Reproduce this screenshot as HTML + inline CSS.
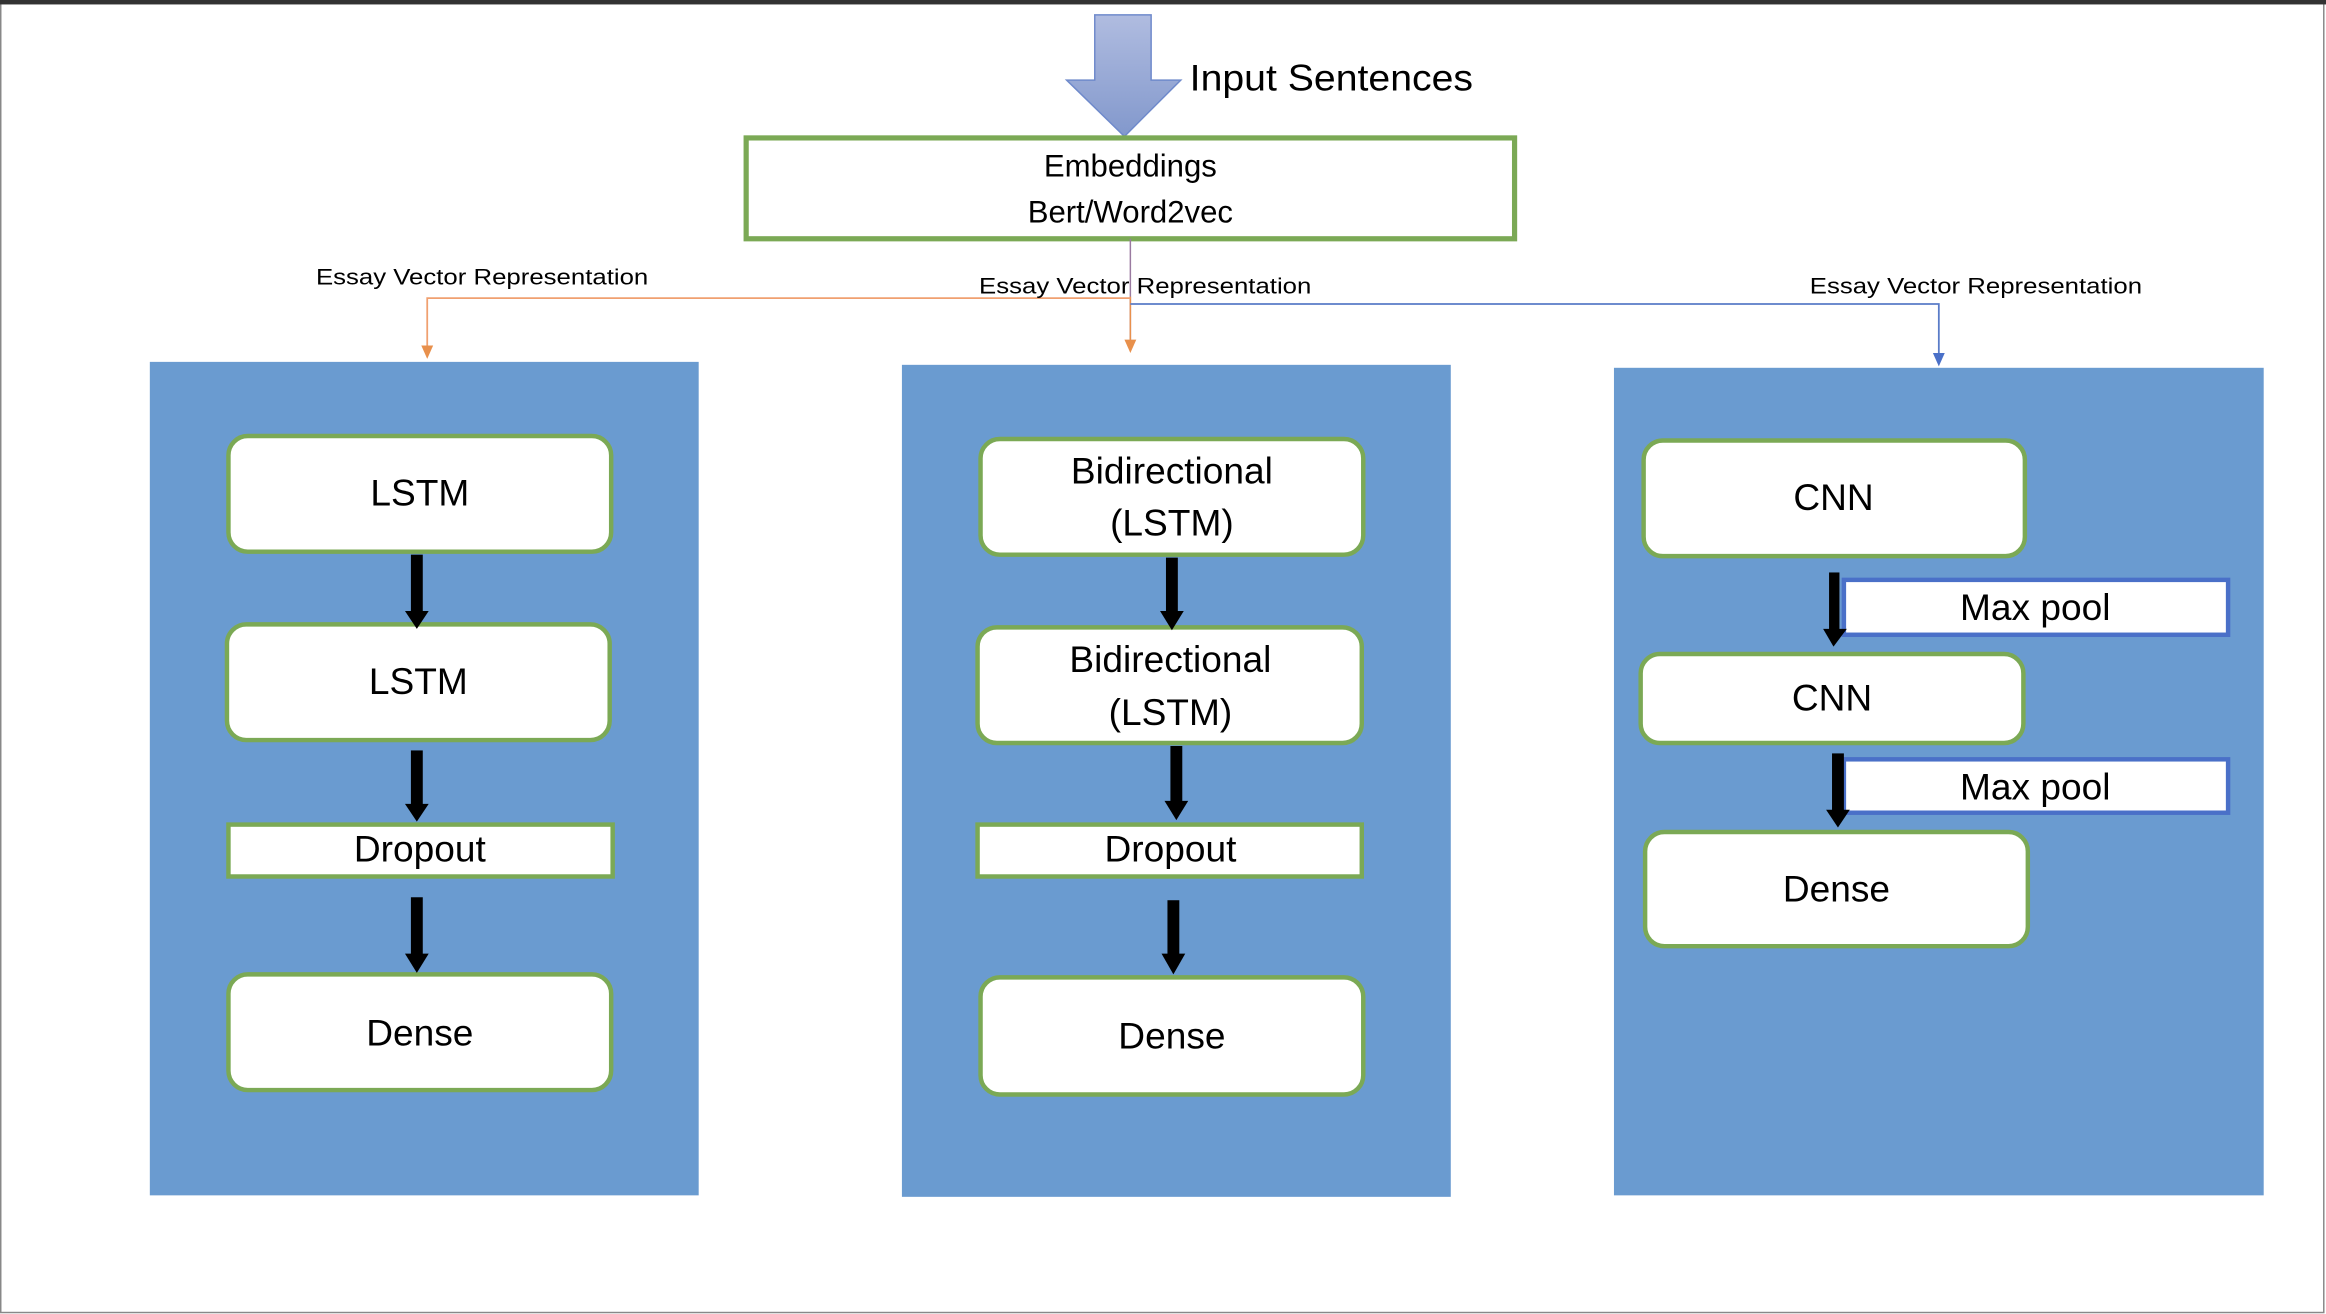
<!DOCTYPE html>
<html><head><meta charset="utf-8"><style>
html,body{margin:0;padding:0;background:#fff;}
svg{display:block;}
text{font-family:"Liberation Sans",sans-serif;fill:#000;}
</style></head><body>
<svg width="2326" height="1314" viewBox="0 0 1568 886" preserveAspectRatio="none" xmlns="http://www.w3.org/2000/svg">
<defs>
<linearGradient id="ag" x1="0" y1="0" x2="0" y2="1"><stop offset="0" stop-color="#b0bce0"/><stop offset="1" stop-color="#8298cc"/></linearGradient>
</defs>
<rect x="0" y="0" width="1568" height="886" fill="#fff"/>
<rect x="0.5" y="2" width="1566" height="883" fill="none" stroke="#888" stroke-width="1"/>
<rect x="0" y="0" width="1568" height="3" fill="#333"/>

<!-- big arrow -->
<path d="M738 10 L776 10 L776 54 L796 54 L758 92 L719 54 L738 54 Z" fill="url(#ag)" stroke="#6f8acb" stroke-width="1"/>
<text x="802" y="61" font-size="25" textLength="191" lengthAdjust="spacingAndGlyphs">Input Sentences</text>

<!-- embeddings -->
<rect x="503" y="93" width="518" height="68" fill="#fff" stroke="#7ba955" stroke-width="3.5"/>
<text x="762" y="119" font-size="21" text-anchor="middle">Embeddings</text>
<text x="762" y="150" font-size="21" text-anchor="middle">Bert/Word2vec</text>

<!-- connectors -->
<line x1="762" y1="161" x2="762" y2="232" stroke="#9a7aa0" stroke-width="1"/>
<line x1="762" y1="200" x2="762" y2="232" stroke="#e8904c" stroke-width="1"/>
<polygon points="758,229 766,229 762,238" fill="#e8904c"/>
<polyline points="762,201 288,201 288,236" fill="none" stroke="#f0a070" stroke-width="1.2"/>
<polygon points="284,233 292,233 288,242" fill="#e8904c"/>
<polyline points="762,205 1307,205 1307,240" fill="none" stroke="#5a7cc8" stroke-width="1.2"/>
<polygon points="1303,238 1311,238 1307,247" fill="#4a70c8"/>
<text x="213" y="192" font-size="15" textLength="224" lengthAdjust="spacingAndGlyphs">Essay Vector Representation</text>
<text x="660" y="198" font-size="15" textLength="224" lengthAdjust="spacingAndGlyphs">Essay Vector Representation</text>
<text x="1220" y="198" font-size="15" textLength="224" lengthAdjust="spacingAndGlyphs">Essay Vector Representation</text>

<!-- panels -->
<rect x="101" y="244" width="370" height="562" fill="#6a9bd0"/>
<rect x="608" y="246" width="370" height="561" fill="#6a9bd0"/>
<rect x="1088" y="248" width="438" height="558" fill="#6a9bd0"/>

<g stroke="#7ba955" stroke-width="3" fill="#fff">
<rect x="154" y="294" width="258" height="78" rx="13"/>
<rect x="153" y="421" width="258" height="78" rx="13"/>
<rect x="154" y="556" width="259" height="35"/>
<rect x="154" y="657" width="258" height="78" rx="13"/>
<rect x="661" y="296" width="258" height="78" rx="13"/>
<rect x="659" y="423" width="259" height="78" rx="13"/>
<rect x="659" y="556" width="259" height="35"/>
<rect x="661" y="659" width="258" height="79" rx="13"/>
<rect x="1108" y="297" width="257" height="78" rx="13"/>
<rect x="1106" y="441" width="258" height="60" rx="13"/>
<rect x="1109" y="561" width="258" height="77" rx="13"/>
</g>
<g stroke="#4a70c8" stroke-width="3" fill="#fff">
<rect x="1243" y="391" width="259" height="37"/>
<rect x="1243" y="512" width="259" height="36"/>
</g>

<g font-size="25" text-anchor="middle">
<text x="283" y="341">LSTM</text>
<text x="282" y="468">LSTM</text>
<text x="283" y="581">Dropout</text>
<text x="283" y="705">Dense</text>
<text x="790" y="326">Bidirectional</text>
<text x="790" y="361">(LSTM)</text>
<text x="789" y="453">Bidirectional</text>
<text x="789" y="489">(LSTM)</text>
<text x="789" y="581">Dropout</text>
<text x="790" y="707">Dense</text>
<text x="1236" y="344">CNN</text>
<text x="1235" y="479">CNN</text>
<text x="1238" y="608">Dense</text>
<text x="1372" y="418">Max pool</text>
<text x="1372" y="539">Max pool</text>
</g>

<!-- black arrows -->
<g fill="#000">
<rect x="277" y="374" width="8" height="40"/><polygon points="273,412 289,412 281,424"/>
<rect x="277" y="506" width="8" height="38"/><polygon points="273,542 289,542 281,554"/>
<rect x="277" y="605" width="8" height="40"/><polygon points="273,643 289,643 281,656"/>
<rect x="786" y="376" width="8" height="38"/><polygon points="782,412 798,412 790,425"/>
<rect x="789" y="503" width="8" height="39"/><polygon points="785,540 801,540 793,553"/>
<rect x="787" y="607" width="8" height="38"/><polygon points="783,643 799,643 791,657"/>
<rect x="1233" y="386" width="7" height="40"/><polygon points="1229,424 1245,424 1236,436"/>
<rect x="1235" y="508" width="8" height="40"/><polygon points="1231,546 1247,546 1239,558"/>
</g>
</svg>
</body></html>
